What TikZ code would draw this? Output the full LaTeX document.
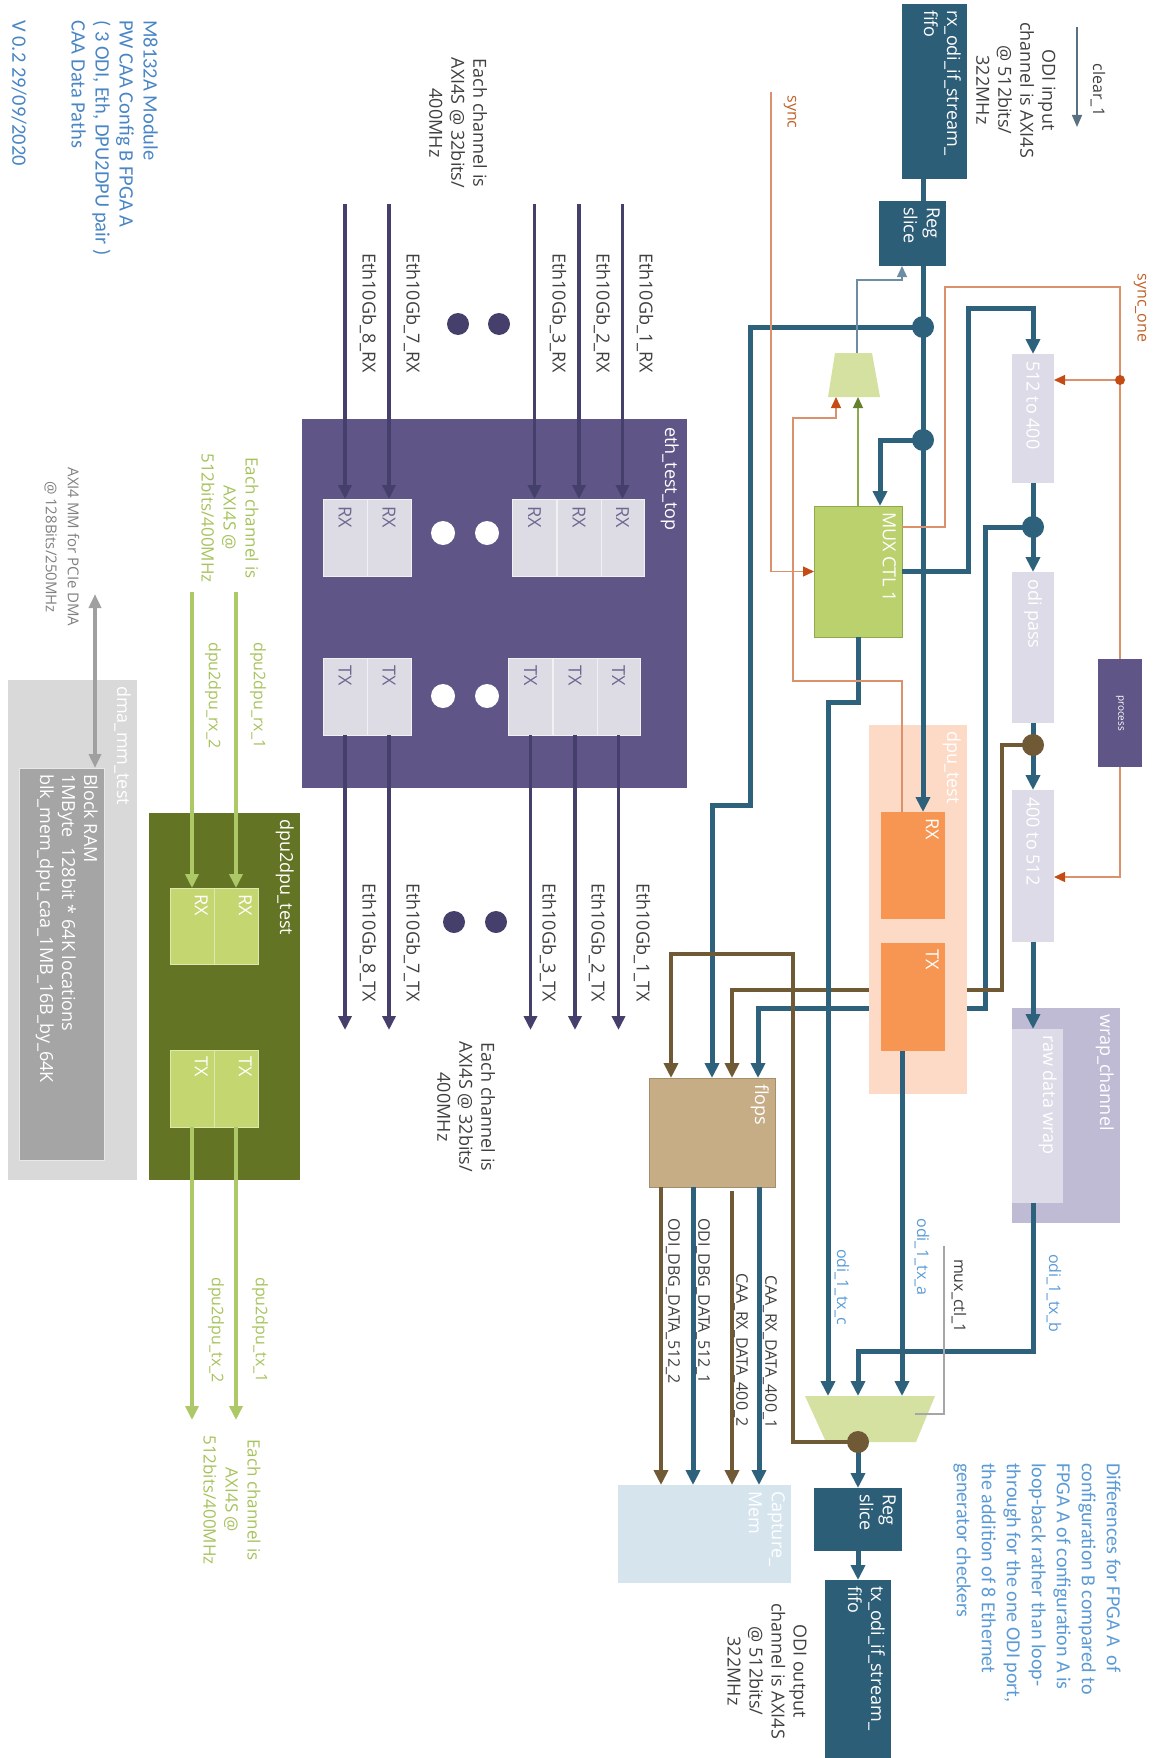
\documentclass[tikz,border=0pt]{standalone}
\usepackage{fontspec}
\setmainfont{Open Sans}
\newfontfamily\notefont{Carlito}
\usetikzlibrary{arrows.meta}
\definecolor{odiBlue}{RGB}{45,94,120}
\definecolor{lineBlue}{RGB}{46,97,124}
\definecolor{ctlBlue}{RGB}{110,140,162}
\definecolor{ethFill}{RGB}{95,86,135}
\definecolor{ethLine}{RGB}{69,63,108}
\definecolor{ethCell}{RGB}{221,220,228}
\definecolor{ethText}{RGB}{110,104,145}
\definecolor{convFill}{RGB}{220,219,231}
\definecolor{wrapFill}{RGB}{191,187,213}
\definecolor{muxFill}{RGB}{186,209,110}
\definecolor{muxStroke}{RGB}{143,170,74}
\definecolor{muxTip}{RGB}{102,128,45}
\definecolor{mmuxFill}{RGB}{212,225,160}
\definecolor{syncLine}{RGB}{219,146,108}
\definecolor{syncTip}{RGB}{196,75,20}
\definecolor{syncText}{RGB}{192,98,43}
\definecolor{dpuBg}{RGB}{253,218,198}
\definecolor{dpuFill}{RGB}{247,149,82}
\definecolor{flopFill}{RGB}{198,173,134}
\definecolor{flopStroke}{RGB}{165,143,106}
\definecolor{brownLine}{RGB}{112,90,54}
\definecolor{capFill}{RGB}{214,228,238}
\definecolor{d2dFill}{RGB}{99,117,37}
\definecolor{d2dCell}{RGB}{195,214,111}
\definecolor{d2dLine}{RGB}{173,200,102}
\definecolor{d2dText}{RGB}{166,194,92}
\definecolor{dmaFill}{RGB}{217,217,217}
\definecolor{bramFill}{RGB}{165,165,165}
\definecolor{dmaArrow}{RGB}{160,160,160}
\definecolor{noteBlue}{RGB}{91,155,213}
\definecolor{titleBlue}{RGB}{74,134,197}
\colorlet{ink}{black!75}
\tikzset{
  >={Triangle[length=15pt,width=14pt]},
  blk/.style={rectangle, inner sep=0pt, outer sep=0pt, draw=none},
  odibox/.style={blk, fill=odiBlue},
  convbox/.style={blk, fill=convFill},
  ethbox/.style={blk, fill=ethFill},
  ethcell/.style={blk, fill=ethCell, draw=white!60!ethCell, line width=1pt},
  muxbox/.style={blk, fill=muxFill, draw=muxStroke, line width=0.8pt},
  dpubg/.style={blk, fill=dpuBg},
  dpucell/.style={blk, fill=dpuFill},
  wrapbox/.style={blk, fill=wrapFill},
  flopbox/.style={blk, fill=flopFill, draw=flopStroke, line width=0.8pt},
  capbox/.style={blk, fill=capFill},
  d2dbox/.style={blk, fill=d2dFill},
  d2dcell/.style={blk, fill=d2dCell, draw=white!45!d2dCell, line width=1pt},
  dmabox/.style={blk, fill=dmaFill},
  brambox/.style={blk, fill=bramFill, draw=white!75!bramFill, line width=1pt},
  tag/.style={rotate=-90, anchor=north west, align=left, inner sep=6pt, text=white,
    font=\fontsize{18}{23}\selectfont},
  celltag/.style={tag, anchor=west, inner sep=7pt},
  rot/.style={rotate=-90, inner sep=0pt, align=center, text=ink,
    font=\fontsize{18}{22}\selectfont},
  sig/.style={rot, font=\fontsize{16}{19}\selectfont},
  bus/.style={draw=lineBlue, line width=5pt},
  brownbus/.style={draw=brownLine, line width=4.5pt},
  ethbus/.style={draw=ethLine, line width=3.5pt, -{Triangle[length=14pt,width=13pt]}},
  d2dbus/.style={draw=d2dLine, line width=3.5pt, -{Triangle[length=14pt,width=13pt]}},
  syncline/.style={draw=syncLine, line width=1.3pt},
  synctip/.style={-{Triangle[length=11pt,width=10pt,color=syncTip]}},
  greenline/.style={draw=muxStroke, line width=1.3pt, -{Triangle[length=11pt,width=10pt,color=muxTip]}},
  ctlline/.style={draw=ctlBlue, line width=1.3pt, -{Triangle[length=11pt,width=10pt]}},
  ctlgray/.style={draw=black!35, line width=1.3pt},
  clearline/.style={draw=ctlBlue!80!black, line width=1.5pt, -{Triangle[length=12pt,width=10pt]}},
  dmaline/.style={draw=dmaArrow, line width=4pt,
    {Triangle[length=14pt,width=12pt]}-{Triangle[length=14pt,width=12pt]}}
}

\begin{document}
\begin{tikzpicture}[x=1pt,y=-1pt]
  \useasboundingbox (0,0) rectangle (1158,1758);

  % titles and notes
  \node[rot, anchor=north west, align=left, text=titleBlue, font={\notefont\fontsize{20.5}{24}\selectfont}] (title) at (158,20) {M8132A Module\\PW CAA Config B FPGA A\\( 3 ODI, Eth, DPU2DPU pair )\\CAA Data Paths};
  \node[rot, anchor=west, text=titleBlue, font={\notefont\fontsize{20.5}{24}\selectfont}] (version) at (19,20) {V 0.2 29/09/2020};
  \node[rot, anchor=north west, align=left, text=noteBlue, font={\notefont\fontsize{20}{25}\selectfont}] (diffnote) at (1121,1463) {Differences for FPGA A~ of\\configuration B compared to\\FPGA A of configuration A is\\loop-back rather than loop-\\through for the one ODI port,\\the addition of 8 Ethernet\\generator checkers};
  \node[rot] (odiin) at (1016,90) {ODI input\\channel is AXI4S\\@ 512bits/\\322MHz};
  \node[rot] (odiout) at (767,1671) {ODI output\\channel is AXI4S\\@ 512bits/\\322MHz};

  % junction points
  \coordinate (j1) at (923,327);
  \coordinate (j2) at (923,440);
  \coordinate (j3) at (1033,527);
  \coordinate (j4) at (1033,745);
  \coordinate (odot) at (858,1442);

  % capture path
  \node[flopbox, minimum width=126, minimum height=109, label={[tag]north east:flops}] (flops) at (712,1132.5) {};
  \node[capbox, minimum width=173, minimum height=98, label={[tag]north east:{Capture\_\\Mem}}] (capmem) at (704.5,1534) {};
  \draw[bus,->] (j3) -| (985,1008) -| ([xshift=46pt]flops.north);
  \draw[brownbus,->] (j4) -| (1002,990) -| ([xshift=20pt]flops.north);

  % ODI receive side
  \node[odibox, minimum width=65, minimum height=175, label={[tag]north east:{rx\_odi\_if\_stream\_\\fifo}}] (rxfifo) at (934.5,91.5) {};
  \node[odibox, minimum width=67, minimum height=65, label={[tag]north east:{Reg\\slice}}] (rxreg) at (912.5,233.5) {};
  \node[muxbox, minimum width=88, minimum height=131, label={[tag]north east:MUX CTL 1}] (muxctl) at (858,571.5) {};
  \node[convbox, minimum width=42, minimum height=129, label={[celltag]north:512 to 400}] (conv1) at (1033,418.5) {};
  \node[convbox, minimum width=42, minimum height=151, label={[celltag]north:odi pass}] (odipass) at (1033,647.5) {};
  \node[convbox, minimum width=42, minimum height=152, label={[celltag]north:400 to 512}] (conv2) at (1033,866) {};
  \node[ethbox, minimum width=44, minimum height=108, label={[rot, text=white, font=\fontsize{10}{12}\selectfont]center:process}] (process) at (1120,713) {};
  \node[dpubg, minimum width=98, minimum height=369, label={[tag]north east:dpu\_test}] (dputest) at (918,909.5) {};
  \node[dpucell, minimum width=64, minimum height=107, label={[tag]north east:RX}] (dpurx) at (913,865.5) {};
  \node[dpucell, minimum width=64, minimum height=108, label={[tag]north east:TX}] (dputx) at (913,997) {};
  \node[wrapbox, minimum width=108, minimum height=215, label={[tag]north east:wrap\_channel}] (wrap) at (1066,1115.5) {};
  \node[convbox, minimum width=51, minimum height=174, label={[tag]north east:raw data wrap}] (rawwrap) at (1037.5,1116) {};
  \node[odibox, minimum width=88, minimum height=63, label={[tag]north east:{Reg\\slice}}] (txreg) at (858,1519.5) {};
  \node[odibox, minimum width=66, minimum height=178, label={[tag]north east:{tx\_odi\_if\_stream\_\\fifo}}] (txfifo) at (858,1669) {};

  % the two muxes
  \fill[mmuxFill] (835,353) -- (872,353) -- (880,397) -- (828,397) -- cycle;
  \coordinate (mmuxA) at (836,397);
  \coordinate (mmuxG) at (858,397);
  \coordinate (mmuxOut) at (857,353);
  \fill[mmuxFill] (805,1396) -- (935,1396) -- (916,1442) -- (826,1442) -- cycle;
  \coordinate (omuxC) at (828,1396);
  \coordinate (omuxB) at (858,1396);
  \coordinate (omuxA) at (902,1396);
  \coordinate (omuxS) at (915,1414);

  % ODI buses
  \draw[bus] (rxfifo.south -| j1) -- (rxreg.north -| j1);
  \draw[bus,->] (rxreg.south -| j1) -- (dpurx.north -| j1);
  \draw[bus,->] (j2) -| ([xshift=22pt]muxctl.north);
  \draw[bus,->] (j1) -| (750,805) -| (flops.north);
  \draw[bus,->] (muxctl.east) -| (968,308) -| (conv1.north);
  \draw[bus,->] (conv1.south) -- (odipass.north);
  \draw[bus,->] (odipass.south) -- (conv2.north);
  \draw[bus,->] (conv2.south) -- (conv2.south |- rawwrap.north);
  \draw[bus,->] (rawwrap.south -| conv2.south) |- (858,1351) -- (omuxB);
  \draw[bus,->] ([xshift=-11pt]dputx.south) -- (omuxA);
  \draw[bus,->] (muxctl.south) |- (828,702) -- (omuxC);
  \draw[bus,->] (odot) -- (odot |- txreg.north);
  \draw[bus,->] (txreg.south) -- (txfifo.north);
  \draw[brownbus,->] (odot) -| (793,954) -| ([xshift=-41pt]flops.north);
  \draw[brownbus,->] ([xshift=-51pt]flops.south) -- ([xshift=-51pt]flops.south |- capmem.north);
  \draw[bus,->] ([xshift=-19pt]flops.south) -- ([xshift=-19pt]flops.south |- capmem.north);
  \draw[brownbus,->] ([xshift=20pt,yshift=-4pt]flops.south) -- ([xshift=20pt]flops.south |- capmem.north);
  \draw[bus,->] ([xshift=47pt]flops.south) -- ([xshift=47pt]flops.south |- capmem.north);

  % control lines
  \coordinate (clrA) at (1077,27);
  \coordinate (clrB) at (1077,127);
  \draw[clearline] (clrA) -- (clrB);
  \coordinate (syncsrc) at (771,92);
  \draw[syncline, synctip] (syncsrc) |- (muxctl.west);
  \draw[syncline] ([yshift=44.5pt]muxctl.east) -| (945,287) -| (process.north);
  \coordinate (sdot) at (1120,380);
  \draw[syncline, synctip] (sdot) -- (sdot -| conv1.east);
  \draw[syncline, synctip] (process.south) |- ([yshift=-11pt]conv2.east);
  \draw[syncline, synctip] ([xshift=-11pt]dpurx.north) |- (793,681) |- (836,418) -- (mmuxA);
  \draw[greenline] (muxctl.north) -- (mmuxG);
  \draw[ctlline] (mmuxOut) |- (902,280) -- ([xshift=-10.5pt]rxreg.south);
  \coordinate (ctlsrc) at (944,1246);
  \draw[ctlgray] (ctlsrc) |- (omuxS);

  % dots
  \foreach \p in {j1,j2,j3} \fill[lineBlue] (\p) circle (11pt);
  \foreach \p in {j4,odot} \fill[brownLine] (\p) circle (11pt);
  \fill[syncTip] (sdot) circle (5pt);

  % signal labels
  \node[sig] (clrlbl) at (1098,90) {clear\_1};
  \node[sig, text=syncText] (synclbl) at (790,112) {sync};
  \node[sig, text=syncText] (synconelbl) at (1140,308) {sync\_one};
  \node[sig, text=noteBlue] (txclbl) at (842,1287) {odi\_1\_tx\_c};
  \node[sig, text=noteBlue] (txalbl) at (922,1257) {odi\_1\_tx\_a};
  \node[sig, text=noteBlue] (txblbl) at (1054,1293) {odi\_1\_tx\_b};
  \node[sig] (muxctllbl) at (959,1296) {mux\_ctl\_1};
  \node[sig] (dbg2lbl) at (673,1301) {ODI\_DBG\_DATA\_512\_2};
  \node[sig] (dbg1lbl) at (703,1301) {ODI\_DBG\_DATA\_512\_1};
  \node[sig] (caa2lbl) at (741,1350) {CAA\_RX\_DATA\_400\_2};
  \node[sig] (caa1lbl) at (770,1352) {CAA\_RX\_DATA\_400\_1};

  % ethernet test block
  \coordinate (ethin) at (0,204);
  \coordinate (ethout) at (0,1030);
  \node[ethbox, minimum width=385, minimum height=369, label={[tag, inner sep=8pt]north east:eth\_test\_top}] (eth) at (494.5,603.5) {};
  \foreach \n/\x in {1/622.5,2/579,3/534.5,7/389,8/345}
    \node[ethcell, minimum width=44, minimum height=77, label={[celltag, text=ethText]north:RX}] (erx\n) at (\x,537.5) {};
  \foreach \n/\x in {1/618.5,2/575,3/530.5,7/389,8/345}
    \node[ethcell, minimum width=44, minimum height=77, label={[celltag, text=ethText]north:TX}] (etx\n) at (\x,696.5) {};
  \foreach \n in {1,2,3,7,8} {
    \draw[ethbus] (erx\n.north |- ethin) -- (erx\n.north);
    \draw[ethbus] (etx\n.south) -- (etx\n.south |- ethout);
  }
  \foreach \x/\y in {443/533,487/533,443/696,487/696} \fill[white] (\x,\y) circle (12pt);
  \foreach \x/\y in {458/324,499/324,454/922,496/922} \fill[ethLine] (\x,\y) circle (11pt);
  \foreach \n/\x in {1/645,2/602,3/558,7/412,8/368}
    \node[rot, anchor=west] (ethrxlbl\n) at (\x,253) {Eth10Gb\_\n\_RX};
  \foreach \n/\x in {1/642,2/597,3/548,7/412,8/368}
    \node[rot, anchor=west] (ethtxlbl\n) at (\x,883) {Eth10Gb\_\n\_TX};
  \node[rot] (ethinnote) at (458,123) {Each channel is\\AXI4S @ 32bits/\\400MHz};
  \node[rot] (ethoutnote) at (466,1107) {Each channel is\\AXI4S @ 32bits/\\400MHz};

  % dpu2dpu test block
  \coordinate (d2din) at (0,592);
  \coordinate (d2dout) at (0,1420);
  \node[d2dbox, minimum width=151, minimum height=367, label={[tag]north east:dpu2dpu\_test}] (d2d) at (224.5,996.5) {};
  \foreach \n/\x in {1/236,2/192} {
    \node[d2dcell, minimum width=44, minimum height=76, label={[tag]north east:RX}] (drx\n) at (\x,926) {};
    \node[d2dcell, minimum width=44, minimum height=77, label={[tag]north east:TX}] (dtx\n) at (\x,1088.5) {};
    \draw[d2dbus] (drx\n.north |- d2din) -- (drx\n.north);
    \draw[d2dbus] (dtx\n.south) -- (dtx\n.south |- d2dout);
  }
  \node[sig, anchor=west, text=d2dText] (d2drx1lbl) at (258,642) {dpu2dpu\_rx\_1};
  \node[sig, anchor=west, text=d2dText] (d2drx2lbl) at (213,642) {dpu2dpu\_rx\_2};
  \node[sig, anchor=west, text=d2dText] (d2dtx1lbl) at (260,1277) {dpu2dpu\_tx\_1};
  \node[sig, anchor=west, text=d2dText] (d2dtx2lbl) at (216,1277) {dpu2dpu\_tx\_2};
  \node[rot, text=d2dText, font=\fontsize{17}{22}\selectfont] (d2dinnote) at (230,518) {Each channel is\\AXI4S @\\512bits/400MHz};
  \node[rot, text=d2dText, font=\fontsize{17}{22}\selectfont] (d2doutnote) at (232,1500) {Each channel is\\AXI4S @\\512bits/400MHz};

  % dma block
  \node[dmabox, minimum width=129, minimum height=500, label={[tag]north east:dma\_mm\_test}] (dma) at (72.5,930) {};
  \node[brambox, minimum width=85, minimum height=392, label={[tag, font=\fontsize{18}{22}\selectfont]north east:{Block RAM\\1MByte~ 128bit * 64K locations\\blk\_mem\_dpu\_caa\_1MB\_16B\_by\_64K}}] (bram) at (61.5,964) {};
  \coordinate (dmaio) at (95,594);
  \draw[dmaline] (dmaio) -- (dmaio |- bram.north);
  \node[rot, text=black!50, font=\fontsize{15}{22}\selectfont] (dmanote) at (62,547) {AXI4 MM for PCIe DMA\\@ 128Bits/250MHz};
\end{tikzpicture}
\end{document}
